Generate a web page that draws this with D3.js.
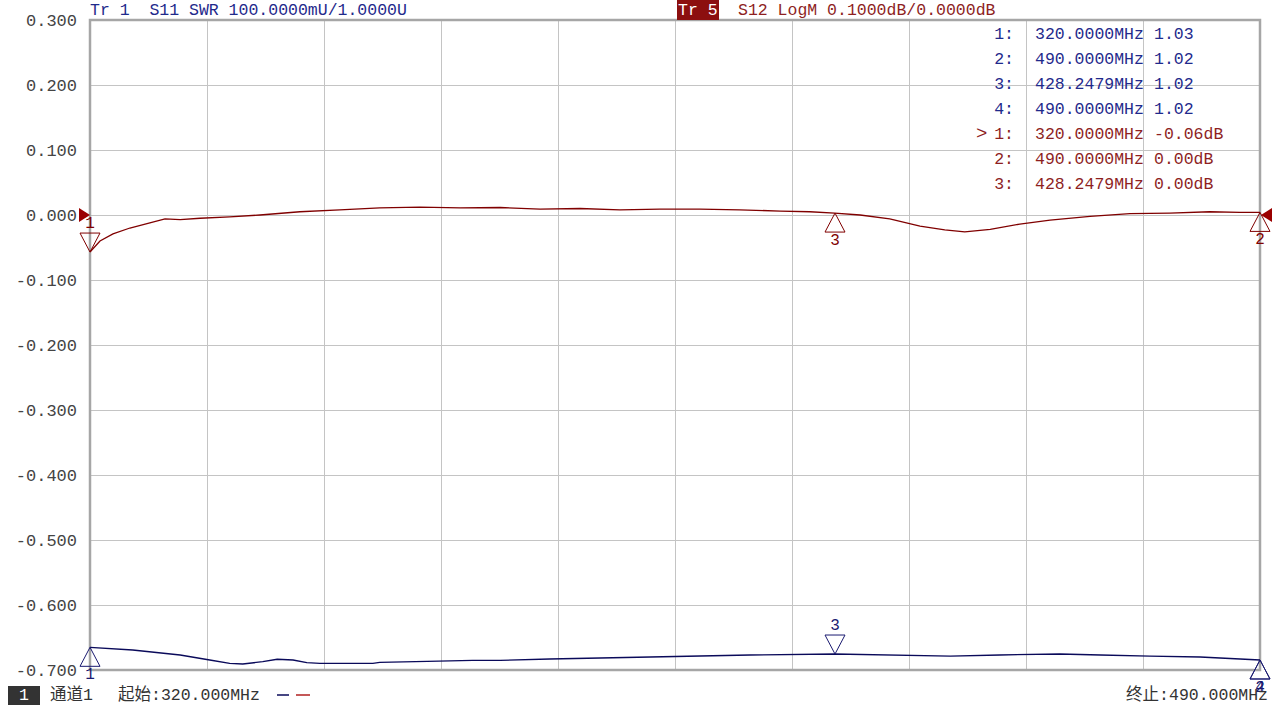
<!DOCTYPE html>
<head>
  <meta charset="utf-8">
  <script src="https://d3js.org/d3.v7.min.js"></script>
  <style>
    body { margin: 0; background: #fff; }
    text {
      font-family: "Liberation Mono", "Noto Sans CJK SC", monospace;
      font-size: 16.5px;
      white-space: pre;
    }
  </style>
</head>
<body>
  <div id="chart"></div>
  <script>
    // S12 LogM trace (Tr 5), MHz / dB
    var s12Freq = [320, 321.45, 323.34, 325.8, 328.7, 330.9, 333.1, 336, 340.3, 344.7,
                   350.5, 356.3, 362.1, 367.9, 373.8, 379.6, 385.4, 391.2, 397, 402.8,
                   408.6, 414.4, 420.3, 424.6, 428.2, 431.9, 436.2, 440.6, 444.2, 447.1,
                   450.8, 455.1, 459.5, 465.3, 471.1, 476.9, 482.7, 487.1, 490];
    var s12Db = [-0.057, -0.040, -0.029, -0.020, -0.012, -0.006, -0.007, -0.005, -0.003, 0.000,
                 0.005, 0.008, 0.011, 0.012, 0.011, 0.0115, 0.009, 0.010, 0.008, 0.009,
                 0.009, 0.008, 0.006, 0.005, 0.003, 0.000, -0.006, -0.017, -0.023, -0.026,
                 -0.022, -0.014, -0.008, -0.002, 0.002, 0.003, 0.005, 0.004, 0.004];

    // S11 SWR trace (Tr 1), MHz / U
    var s11Freq = [320, 326.2, 333.1, 337.4, 340.3, 342.2, 345.1, 347.2, 349.5, 351.5,
                   353.4, 361.1, 362.1, 369.0, 375.6, 379.6, 386.8, 401.4, 415.9, 428.2,
                   445.0, 452.2, 460.9, 466.8, 474.0, 481.3, 487.1, 490];
    var s11Swr = [1.0349, 1.0308, 1.0231, 1.0154, 1.0103, 1.0092, 1.0128, 1.0165, 1.0154, 1.0112,
                  1.0103, 1.0103, 1.0118, 1.0134, 1.0149, 1.0149, 1.0169, 1.0200, 1.0231, 1.0246,
                  1.0215, 1.0231, 1.0246, 1.0231, 1.0215, 1.0200, 1.0169, 1.0154];

    var yTickValues = [0.3, 0.2, 0.1, 0, -0.1, -0.2, -0.3, -0.4, -0.5, -0.6, -0.7];
    var xGridValues = [320, 337, 354, 371, 388, 405, 422, 439, 456, 473, 490];

    var s11Markers = [320, 490, 428.2479, 490];
    var s12Markers = [320, 490, 428.2479];

    var startLabel = "起始:320.000MHz";
    var stopLabel = "终止:490.000MHz";

    var width = 1280, height = 707;
    var RED = "#800000", RED_TXT = "#8e1f1f";
    var BLUE = "#0a0a5a", BLUE_TXT = "#1f2a8c";

    var svg = d3.select("#chart").append("svg")
      .attr("width", width)
      .attr("height", height);

    var x = d3.scaleLinear().domain([320, 490]).range([90, 1260]);
    var yDb = d3.scaleLinear().domain([-0.7, 0.3]).range([670, 20]);
    var ySwr = d3.scaleLinear().domain([1.0, 2.0]).range([670, 20]);

    var loc = d3.formatLocale({decimal: ".", thousands: ",", grouping: [3], currency: ["", ""], minus: "-"});
    var f3 = loc.format(".3f"), f2 = loc.format(".2f"), f4 = loc.format(".4f");

    // grid
    svg.append("g").selectAll("line.h")
      .data(yTickValues).enter().append("line")
      .attr("x1", 90).attr("x2", 1260)
      .attr("y1", function(d) { return yDb(d) }).attr("y2", function(d) { return yDb(d) })
      .attr("stroke", "#c4c4c4").attr("stroke-width", 1).attr("shape-rendering", "crispEdges");
    svg.append("g").selectAll("line.v")
      .data(xGridValues).enter().append("line")
      .attr("y1", 20).attr("y2", 670)
      .attr("x1", function(d) { return x(d) }).attr("x2", function(d) { return x(d) })
      .attr("stroke", "#c4c4c4").attr("stroke-width", 1).attr("shape-rendering", "crispEdges");
    svg.append("rect")
      .attr("x", 90).attr("y", 20).attr("width", 1170).attr("height", 650)
      .attr("fill", "none").attr("stroke", "#a6a6a6").attr("stroke-width", 2.5);

    // y axis labels
    var yAxis = svg.append("g")
      .attr("transform", "translate(90,0)")
      .call(d3.axisLeft(yDb).tickValues(yTickValues).tickSize(0).tickPadding(13).tickFormat(f3));
    yAxis.select(".domain").remove();
    yAxis.selectAll("text")
      .attr("fill", "#444")
      .style("font-size", "17px")
      .style("font-family", "'Liberation Mono', monospace");

    // traces
    var lineDb = d3.line().x(function(d) { return x(d[0]) }).y(function(d) { return yDb(d[1]) });
    var lineSwr = d3.line().x(function(d) { return x(d[0]) }).y(function(d) { return ySwr(d[1]) });

    svg.append("path")
      .attr("d", lineSwr(d3.zip(s11Freq, s11Swr)))
      .attr("fill", "none").attr("stroke", BLUE).attr("stroke-width", 1.3);
    svg.append("path")
      .attr("d", lineDb(d3.zip(s12Freq, s12Db)))
      .attr("fill", "none").attr("stroke", RED).attr("stroke-width", 1.3);

    // reference level arrows
    svg.append("path")
      .attr("d", "M" + 79 + "," + (yDb(0) - 7) + "L" + 90 + "," + yDb(0) + "L" + 79 + "," + (yDb(0) + 7) + "Z")
      .attr("fill", "#9a0000");
    svg.append("path")
      .attr("d", "M" + 1272 + "," + (yDb(0) - 7) + "L" + 1261 + "," + yDb(0) + "L" + 1272 + "," + (yDb(0) + 7) + "Z")
      .attr("fill", "#9a0000");

    function interp(fs, vs, f) {
      var i = d3.bisectLeft(fs, f);
      if (i <= 0) return vs[0];
      if (i >= fs.length) return vs[vs.length - 1];
      var t = (f - fs[i - 1]) / (fs[i] - fs[i - 1]);
      return vs[i - 1] + t * (vs[i] - vs[i - 1]);
    }

    function drawMarker(px, py, label, down, col) {
      var g = svg.append("g");
      var h = 19, w = 10;
      if (down) {
        g.append("path")
          .attr("d", "M" + px + "," + py + "L" + (px - w) + "," + (py - h) + "L" + (px + w) + "," + (py - h) + "Z")
          .attr("fill", "none").attr("stroke", col).attr("stroke-width", 1);
        g.append("text").attr("x", px).attr("y", py - h - 9)
          .attr("text-anchor", "middle").attr("dominant-baseline", "central")
          .attr("fill", col).style("font-size", "16px").text(label);
      } else {
        g.append("path")
          .attr("d", "M" + px + "," + py + "L" + (px - w) + "," + (py + h) + "L" + (px + w) + "," + (py + h) + "Z")
          .attr("fill", "none").attr("stroke", col).attr("stroke-width", 1);
        g.append("text").attr("x", px).attr("y", py + h + 9)
          .attr("text-anchor", "middle").attr("dominant-baseline", "central")
          .attr("fill", col).style("font-size", "16px").text(label);
      }
    }

    // S11 markers (draw reversed so marker 2 sits on top of 4)
    for (var i = s11Markers.length - 1; i >= 0; i--) {
      var fm = s11Markers[i];
      drawMarker(x(fm), ySwr(interp(s11Freq, s11Swr, fm)), String(i + 1), i === 2, "#1a1a70");
    }
    for (var j = s12Markers.length - 1; j >= 0; j--) {
      var fr = s12Markers[j];
      drawMarker(x(fr), yDb(interp(s12Freq, s12Db, fr)), String(j + 1), j === 0, RED);
    }

    // header
    svg.append("text").attr("x", 90).attr("y", 10).attr("dominant-baseline", "central")
      .attr("fill", BLUE_TXT).text("Tr 1  S11 SWR 100.0000mU/1.0000U");
    svg.append("rect").attr("x", 677).attr("y", 0).attr("width", 42).attr("height", 20).attr("fill", "#8c0f0f");
    svg.append("text").attr("x", 678).attr("y", 10).attr("dominant-baseline", "central")
      .attr("fill", "#fff").text("Tr 5");
    svg.append("text").attr("x", 738).attr("y", 10).attr("dominant-baseline", "central")
      .attr("fill", RED_TXT).text("S12 LogM 0.1000dB/0.0000dB");

    // marker table
    var rows = [];
    s11Markers.forEach(function(f, i) {
      rows.push({n: (i + 1) + ":", f: f4(f) + "MHz", v: f2(interp(s11Freq, s11Swr, f)), c: BLUE_TXT, act: false});
    });
    s12Markers.forEach(function(f, i) {
      rows.push({n: (i + 1) + ":", f: f4(f) + "MHz", v: f2(interp(s12Freq, s12Db, f)) + "dB", c: RED_TXT, act: i === 0});
    });
    var table = svg.append("g").selectAll("g").data(rows).enter().append("g")
      .attr("transform", function(d, i) { return "translate(0," + (34 + 25 * i) + ")" });
    table.append("text").attr("x", 1014).attr("text-anchor", "end").attr("dominant-baseline", "central")
      .attr("fill", function(d) { return d.c }).text(function(d) { return d.n });
    table.filter(function(d) { return d.act }).append("text")
      .attr("x", 976).attr("dominant-baseline", "central")
      .attr("fill", function(d) { return d.c }).style("font-size", "19px").text(">");
    table.append("text").attr("x", 1035).attr("dominant-baseline", "central")
      .attr("fill", function(d) { return d.c }).text(function(d) { return d.f });
    table.append("text").attr("x", 1154).attr("dominant-baseline", "central")
      .attr("fill", function(d) { return d.c }).text(function(d) { return d.v });

    // bottom bar
    svg.append("rect").attr("x", 8).attr("y", 686).attr("width", 32).attr("height", 19).attr("fill", "#333");
    svg.append("text").attr("x", 24).attr("y", 695).attr("text-anchor", "middle").attr("dominant-baseline", "central")
      .attr("fill", "#fff").text("1");
    svg.append("text").attr("x", 50).attr("y", 695).attr("dominant-baseline", "central")
      .attr("fill", "#333").text("通道1");
    svg.append("text").attr("x", 118).attr("y", 695).attr("dominant-baseline", "central")
      .attr("fill", "#333").text(startLabel);
    svg.append("line").attr("x1", 277).attr("x2", 289).attr("y1", 695).attr("y2", 695)
      .attr("stroke", BLUE).attr("stroke-width", 1.5);
    svg.append("line").attr("x1", 296).attr("x2", 310).attr("y1", 695).attr("y2", 695)
      .attr("stroke", "#b02020").attr("stroke-width", 1.5);
    svg.append("text").attr("x", 1268).attr("y", 695).attr("text-anchor", "end").attr("dominant-baseline", "central")
      .attr("fill", "#333").text(stopLabel);
  </script>
</body>
